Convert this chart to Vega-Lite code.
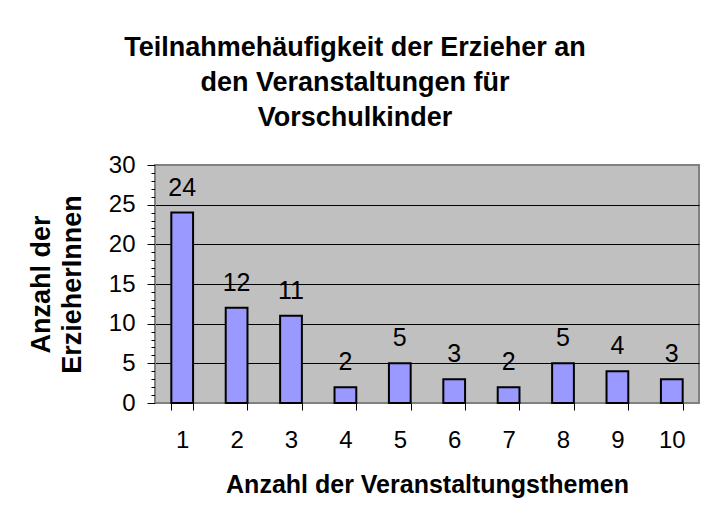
{
  "$schema": "https://vega.github.io/schema/vega-lite/v6.json",
  "width": 544,
  "height": 238,
  "autosize": {"type": "none"},
  "padding": {"left": 155, "top": 165, "right": 8, "bottom": 117},
  "background": "white",
  "title": {
    "text": ["Teilnahmehäufigkeit der Erzieher an", "den Veranstaltungen für", "Vorschulkinder"],
    "font": "Liberation Sans",
    "fontSize": 27,
    "fontWeight": "bold",
    "color": "black",
    "lineHeight": 35,
    "anchor": "middle",
    "frame": "group",
    "dx": -72,
    "offset": 21
  },
  "data": {
    "values": [
      {"themen": "1", "anzahl": 24},
      {"themen": "2", "anzahl": 12},
      {"themen": "3", "anzahl": 11},
      {"themen": "4", "anzahl": 2},
      {"themen": "5", "anzahl": 5},
      {"themen": "6", "anzahl": 3},
      {"themen": "7", "anzahl": 2},
      {"themen": "8", "anzahl": 5},
      {"themen": "9", "anzahl": 4},
      {"themen": "10", "anzahl": 3}
    ]
  },
  "encoding": {
    "x": {
      "field": "themen",
      "type": "ordinal",
      "sort": null,
      "scale": {"paddingInner": 0.6, "paddingOuter": 0.3},
      "axis": {
        "title": "Anzahl der Veranstaltungsthemen",
        "titleFont": "Liberation Sans",
        "titleFontSize": 25,
        "titleFontWeight": "bold",
        "titleColor": "black",
        "titlePadding": 20,
        "labelFont": "Liberation Sans",
        "labelFontSize": 24,
        "labelColor": "black",
        "labelAngle": 0,
        "labelPadding": 18,
        "tickBand": "extent",
        "tickSize": 7,
        "tickColor": "black",
        "domainColor": "#808080",
        "domainWidth": 1
      }
    },
    "y": {
      "field": "anzahl",
      "type": "quantitative",
      "scale": {"domain": [0, 30], "nice": false},
      "axis": {
        "title": ["Anzahl der", "ErzieherInnen"],
        "titleFont": "Liberation Sans",
        "titleFontSize": 27,
        "titleFontWeight": "bold",
        "titleColor": "black",
        "titlePadding": 22,
        "titleLineHeight": 31,
        "values": [0,1,2,3,4,5,6,7,8,9,10,11,12,13,14,15,16,17,18,19,20,21,22,23,24,25,26,27,28,29,30],
        "labelExpr": "datum.value % 5 === 0 ? datum.label : ''",
        "labelFont": "Liberation Sans",
        "labelFontSize": 24,
        "labelColor": "black",
        "labelPadding": 12,
        "tickColor": "black",
        "tickSize": {"condition": {"test": "datum.value % 5 === 0", "value": 8}, "value": 4},
        "domainColor": "#808080",
        "grid": true,
        "gridColor": "black",
        "gridOpacity": {"condition": {"test": "datum.value % 5 === 0 && datum.value > 0 && datum.value < 30", "value": 1}, "value": 0}
      }
    }
  },
  "layer": [
    {
      "mark": {"type": "bar", "color": "#9999FF", "stroke": "black", "strokeWidth": 2}
    },
    {
      "mark": {"type": "text", "font": "Liberation Sans", "fontSize": 25, "color": "black", "baseline": "alphabetic", "dy": -17},
      "encoding": {"text": {"field": "anzahl", "type": "quantitative"}}
    }
  ],
  "config": {
    "view": {"fill": "#C0C0C0", "stroke": "#808080", "strokeWidth": 2}
  }
}
